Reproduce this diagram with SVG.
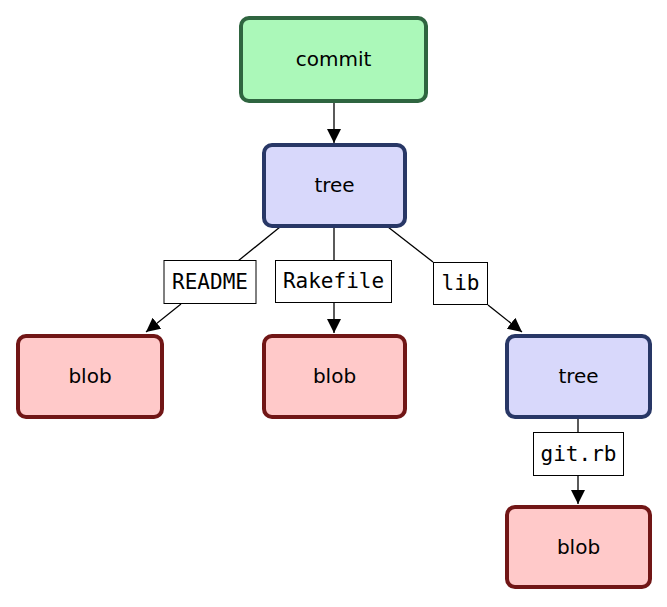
<svg xmlns="http://www.w3.org/2000/svg" width="667" height="607" viewBox="0 0 667 607">
  <style>
    .node rect { stroke-width: 4; }
    .commit rect { fill: #abf8b9; stroke: #2f6540; }
    .tree rect { fill: #d8d8fb; stroke: #283766; }
    .blob rect { fill: #ffc9c9; stroke: #711616; }
    .node text { font-family: "DejaVu Sans", sans-serif; font-size: 20px; text-anchor: middle; fill: #000; }
    .edges line { stroke: #000; stroke-width: 1.3; }
    .lbl rect { fill: #fff; stroke: #000; stroke-width: 1; }
    .lbl text { font-family: "DejaVu Sans Mono", monospace; font-size: 21px; text-anchor: middle; fill: #000; }
  </style>
  <defs>
    <marker id="arrow" viewBox="0 0 10 10" refX="10" refY="5" markerWidth="14" markerHeight="14" markerUnits="userSpaceOnUse" orient="auto">
      <path d="M0,0 L10,5 L0,10 z" fill="#000"/>
    </marker>
  </defs>

  <g class="edges">
    <line x1="334" y1="101" x2="334" y2="143" marker-end="url(#arrow)"/>
    <line x1="280" y1="227" x2="238" y2="261"/>
    <line x1="181" y1="304" x2="146" y2="332" marker-end="url(#arrow)"/>
    <line x1="334" y1="227" x2="334" y2="261"/>
    <line x1="334" y1="303" x2="334" y2="333" marker-end="url(#arrow)"/>
    <line x1="388" y1="227" x2="433" y2="262"/>
    <line x1="488" y1="305" x2="522" y2="332" marker-end="url(#arrow)"/>
    <line x1="578" y1="419" x2="578" y2="432"/>
    <line x1="578" y1="476" x2="578" y2="504" marker-end="url(#arrow)"/>
    <g class="lbl">
      <rect x="164" y="260.5" width="92" height="43"/>
      <text x="210" y="289">README</text>
      <rect x="275.5" y="260.5" width="116" height="42"/>
      <text x="333.5" y="288">Rakefile</text>
      <rect x="433.5" y="262.5" width="54" height="42"/>
      <text x="460.5" y="290">lib</text>
      <rect x="533.5" y="432.5" width="90" height="43"/>
      <text x="578.5" y="461">git.rb</text>
    </g>
  </g>

  <g id="commit" class="node commit">
    <rect x="241" y="18" width="185" height="83" rx="8"/>
    <text x="333.5" y="66">commit</text>
  </g>
  <g id="tree-root" class="node tree">
    <rect x="264" y="145" width="141" height="81" rx="8"/>
    <text x="334.5" y="192">tree</text>
  </g>
  <g id="blob-readme" class="node blob">
    <rect x="18" y="336" width="144" height="81" rx="8"/>
    <text x="90" y="383">blob</text>
  </g>
  <g id="blob-rakefile" class="node blob">
    <rect x="264" y="336" width="141" height="81" rx="8"/>
    <text x="334.5" y="383">blob</text>
  </g>
  <g id="tree-lib" class="node tree">
    <rect x="507" y="336" width="143" height="81" rx="8"/>
    <text x="578.5" y="383">tree</text>
  </g>
  <g id="blob-git" class="node blob">
    <rect x="507" y="507" width="143" height="80" rx="8"/>
    <text x="578.5" y="554">blob</text>
  </g>
</svg>
